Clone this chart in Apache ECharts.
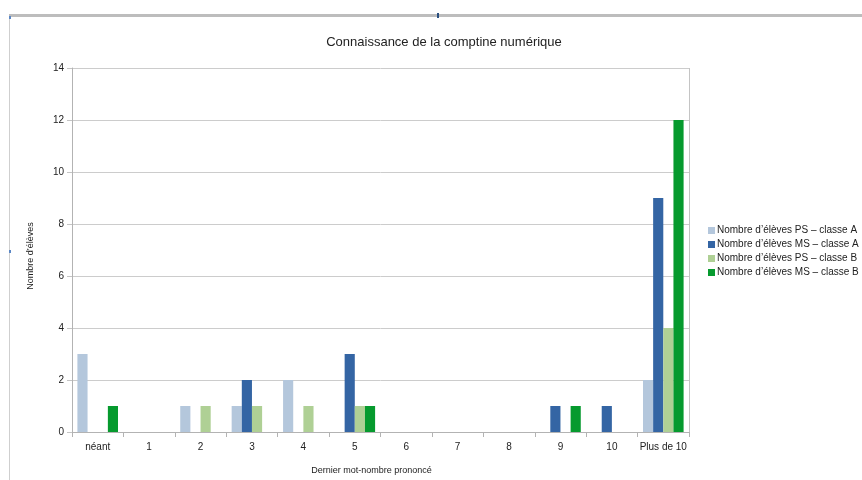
<!DOCTYPE html>
<html>
<head>
<meta charset="utf-8">
<script src="https://cdn.jsdelivr.net/npm/echarts@6/dist/echarts.min.js"></script>
<style>
  html, body { margin: 0; padding: 0; background: #fff; }
  #chart { width: 862px; height: 480px; }
</style>
</head>
<body>
<div id="chart"></div>
<script>
// categories = dernier mot-nombre prononcé
const categories = ['néant', '1', '2', '3', '4', '5', '6', '7', '8', '9', '10', 'Plus de 10'];
const psClasseA = [3, 0, 1, 1, 2, 0, 0, 0, 0, 0, 0, 2];
const msClasseA = [0, 0, 0, 2, 0, 3, 0, 0, 0, 1, 1, 9];
const psClasseB = [0, 0, 1, 1, 1, 1, 0, 0, 0, 0, 0, 4];
const msClasseB = [1, 0, 0, 0, 0, 1, 0, 0, 0, 1, 0, 12];
const seriesNames = [
    'Nombre d\u2019élèves PS \u2013 classe A',
    'Nombre d\u2019élèves MS \u2013 classe A',
    'Nombre d\u2019élèves PS \u2013 classe B',
    'Nombre d\u2019élèves MS \u2013 classe B'
];
const colors = ['#b4c7dc', '#3465a4', '#afd095', '#069a2e'];

const font = '"Liberation Sans", Arial, sans-serif';
const myChart = echarts.init(document.getElementById('chart'));

const bar = (name, data, color) => ({
    name: name,
    type: 'bar',
    data: data,
    barGap: 0,
    barCategoryGap: '21%',
    itemStyle: { color: color },
    emphasis: { disabled: true }
});

const option = {
    animation: false,
    textStyle: { fontFamily: font },
    color: colors,
    title: {
        text: 'Connaissance de la comptine numérique',
        left: 439,
        textAlign: 'center',
        top: 31,
        textStyle: { fontFamily: font, fontSize: 13, fontWeight: 'normal', color: '#222' }
    },
    legend: {
        orient: 'vertical',
        left: 708,
        top: 225,
        padding: 0,
        itemWidth: 7,
        itemHeight: 7,
        itemGap: 3,
        icon: 'rect',
        textStyle: { fontFamily: font, fontSize: 10, color: '#222', padding: [0, 0, 0, -3], lineHeight: 11 }
    },
    grid: {
        left: 72,
        right: 173,
        top: 68,
        bottom: 48
    },
    xAxis: {
        type: 'category',
        data: categories,
        name: 'Dernier mot-nombre prononcé',
        nameLocation: 'middle',
        nameGap: 34,
        nameTextStyle: { fontFamily: font, fontSize: 9, color: '#222', padding: [0, 18, 0, 0] },
        axisLine: { lineStyle: { color: '#b3b3b3' } },
        axisTick: { show: true, length: 5, lineStyle: { color: '#b3b3b3' } },
        axisLabel: { fontFamily: font, fontSize: 10, color: '#222', margin: 10, interval: 0 }
    },
    yAxis: {
        type: 'value',
        min: 0,
        max: 14,
        interval: 2,
        name: 'Nombre d\u2019élèves',
        nameLocation: 'middle',
        nameGap: 37,
        nameTextStyle: { fontFamily: font, fontSize: 9, color: '#222', padding: [0, 12, 0, 0] },
        axisLine: { show: true, lineStyle: { color: '#b3b3b3' } },
        axisTick: { show: true, length: 5, lineStyle: { color: '#c4c4c4' } },
        axisLabel: { fontFamily: font, fontSize: 10, color: '#222', margin: 8 },
        splitLine: { lineStyle: { color: '#cccccc' } }
    },
    graphic: [
        // cadre de l'objet sélectionné
        { type: 'rect', shape: { x: 9, y: 14, width: 853, height: 3 }, style: { fill: '#bdbdbd' }, silent: true },
        { type: 'rect', shape: { x: 9, y: 17, width: 1, height: 463 }, style: { fill: '#cfcfcf' }, silent: true },
        { type: 'rect', shape: { x: 9, y: 16, width: 2, height: 3 }, style: { fill: '#5b87c5' }, silent: true },
        { type: 'rect', shape: { x: 437, y: 13, width: 2, height: 5 }, style: { fill: '#2a4f80' }, silent: true },
        { type: 'rect', shape: { x: 9, y: 250, width: 2, height: 3 }, style: { fill: '#5b87c5' }, silent: true },
        // bordure droite du graphique
        { type: 'line', shape: { x1: 689.5, y1: 68, x2: 689.5, y2: 432 }, style: { stroke: '#c4c4c4', lineWidth: 1 }, silent: true }
    ],
    series: [
        bar(seriesNames[0], psClasseA, colors[0]),
        bar(seriesNames[1], msClasseA, colors[1]),
        bar(seriesNames[2], psClasseB, colors[2]),
        bar(seriesNames[3], msClasseB, colors[3])
    ]
};

myChart.setOption(option);
</script>
</body>
</html>
